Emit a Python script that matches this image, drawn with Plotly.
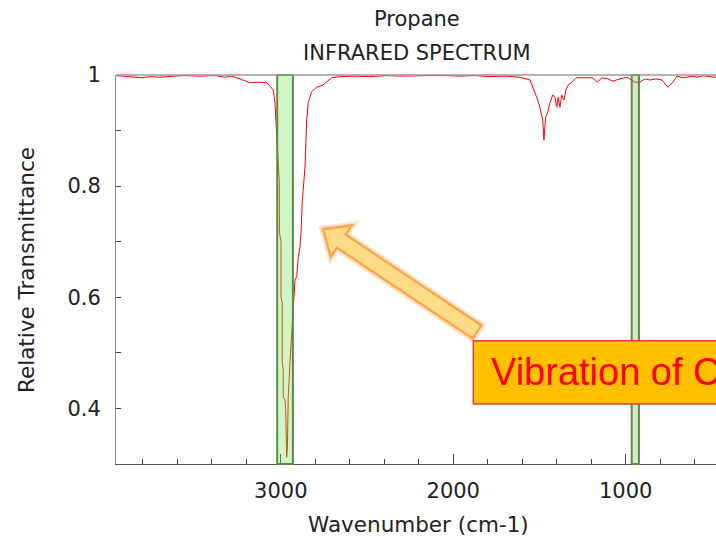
import plotly.graph_objects as go

# ---- data ----
wavenumber = [3956, 3904, 3846, 3806, 3759, 3701, 3614, 3556, 3469, 3382, 3324, 3284,
              3220, 3179, 3133, 3081, 3063, 3044, 3034, 3024, 3017, 3009, 3008, 2999,
              2999, 2992, 2992, 2986, 2986, 2976, 2972, 2966, 2962, 2957, 2947, 2937,
              2928, 2918, 2908, 2899, 2889, 2883, 2876, 2864, 2860, 2850, 2841, 2821,
              2792, 2756, 2734, 2705, 2657, 2570, 2483, 2396, 2309, 2222, 2135, 2048,
              1961, 1874, 1787, 1700, 1613, 1555, 1536, 1516, 1501, 1491, 1481, 1474,
              1464, 1452, 1439, 1423, 1410, 1400, 1391, 1381, 1371, 1358, 1346, 1333,
              1313, 1288, 1236, 1190, 1166, 1137, 1103, 1074, 1033, 992, 946, 917,
              888, 859, 824, 789, 755, 726, 702, 673, 644, 615, 586, 552, 511, 476]
transmittance = [0.999, 0.998, 0.996, 0.995, 0.997, 0.996, 0.998, 0.999, 0.998, 0.999, 0.996, 0.998,
                 0.991, 0.986, 0.987, 0.986, 0.980, 0.973, 0.950, 0.883, 0.847, 0.807, 0.716, 0.700,
                 0.600, 0.590, 0.483, 0.470, 0.420, 0.415, 0.400, 0.312, 0.330, 0.420, 0.483, 0.535,
                 0.577, 0.631, 0.637, 0.672, 0.690, 0.716, 0.770, 0.810, 0.834, 0.919, 0.950, 0.970,
                 0.978, 0.982, 0.987, 0.995, 0.997, 0.998, 0.997, 0.999, 0.998, 0.999, 0.999, 0.999,
                 0.998, 0.999, 0.997, 0.998, 0.996, 0.991, 0.977, 0.960, 0.946, 0.932, 0.919, 0.883,
                 0.924, 0.933, 0.950, 0.964, 0.960, 0.942, 0.960, 0.942, 0.964, 0.955, 0.973, 0.982,
                 0.987, 0.995, 0.995, 0.995, 0.987, 0.995, 0.993, 0.989, 0.993, 0.996, 0.987, 0.987,
                 0.993, 0.991, 0.993, 0.991, 0.978, 0.987, 0.998, 0.995, 0.996, 0.998, 0.996, 0.999, 0.997, 0.996]

band_ranges = [(3021, 2930), (965, 923)]
y_tickvals = [0.4, 0.6, 0.8, 1.0]
y_ticktext = ["0.4", "0.6", "0.8", "1"]
x_tickvals = [3000, 2000, 1000]
x_ticktext = ["3000", "2000", "1000"]

W, H = 716, 539
L, R, T, B = 116, 0, 75, 75
PW, PH = W - L - R, H - T - B


def px(x):
    return (x - L) / PW


def py(y):
    return (H - B - y) / PH


FONT = "DejaVu Sans"
fig = go.Figure()
fig.add_trace(go.Scatter(x=wavenumber, y=transmittance, mode="lines",
                         line=dict(color="#ff0000", width=1), hoverinfo="skip"))

# green highlight bands
band_styles = [("rgba(120,230,90,0.35)", "#5f8a46"), ("rgba(150,200,110,0.40)", "#5f8a46")]
for (a, b), (fc, lc) in zip(band_ranges, band_styles):
    fig.add_shape(type="rect", xref="x", yref="paper", x0=a, x1=b, y0=0, y1=1,
                  fillcolor=fc, line=dict(color=lc, width=2), layer="above")

# top border line
fig.add_shape(type="line", xref="paper", yref="paper", x0=0, x1=1, y0=1, y1=1,
              line=dict(color="#9a9a9a", width=1.5))

# arrow polygon (pixel geometry)
arrow_pts = [(323, 229), (351.9, 225.4), (345.7, 234.6), (481.4, 325.4),
             (472.6, 338.6), (336.9, 247.8), (330.7, 257)]
path = "M " + " L ".join(f"{px(x):.5f},{py(y):.5f}" for x, y in arrow_pts) + " Z"
fig.add_shape(type="path", xref="paper", yref="paper", path=path,
              fillcolor="rgba(0,0,0,0)", line=dict(color="rgba(255,175,100,0.35)", width=7))
fig.add_shape(type="path", xref="paper", yref="paper", path=path,
              fillcolor="#ffdd88", line=dict(color="#ffa64d", width=2.5))

# label box
fig.add_shape(type="rect", xref="paper", yref="paper",
              x0=px(473.3), x1=px(1000), y0=py(404), y1=py(340.7),
              fillcolor="#ffc000", line=dict(color="#d8433a", width=1.5))
fig.add_annotation(text="Vibration of C-H bonds", xref="paper", yref="paper",
                   x=px(489), y=py(372), xanchor="left", yanchor="middle", showarrow=False,
                   font=dict(family="Liberation Sans", size=38, color="#ff0000"))

# titles
fig.add_annotation(text="Propane", xref="paper", yref="paper", x=px(416.5), y=py(19),
                   xanchor="center", yanchor="middle", showarrow=False,
                   font=dict(family=FONT, size=21, color="#222"))
fig.add_annotation(text="INFRARED SPECTRUM", xref="paper", yref="paper", x=px(417), y=py(53),
                   xanchor="center", yanchor="middle", showarrow=False,
                   font=dict(family=FONT, size=21, color="#222"))
fig.add_annotation(text="Wavenumber (cm-1)", xref="paper", yref="paper", x=px(418.5), y=py(524),
                   xanchor="center", yanchor="middle", showarrow=False,
                   font=dict(family=FONT, size=21.5, color="#222"))
fig.add_annotation(text="Relative Transmittance", xref="paper", yref="paper", x=px(26), y=py(270),
                   xanchor="center", yanchor="middle", showarrow=False, textangle=-90,
                   font=dict(family=FONT, size=21.5, color="#222"))

fig.update_layout(
    width=W, height=H, margin=dict(l=L, r=R, t=T, b=B),
    paper_bgcolor="white", plot_bgcolor="white", showlegend=False,
    font=dict(family=FONT, size=21, color="#222"),
    xaxis=dict(range=[3956, 476], showgrid=False, zeroline=False,
               showline=True, linecolor="#555", linewidth=1,
               ticks="inside", ticklen=10, tickcolor="#444", tickwidth=1,
               tickvals=x_tickvals, ticktext=x_ticktext, ticklabelstandoff=8,
               minor=dict(ticks="inside", ticklen=5, dtick=200, tick0=0, tickcolor="#444", showgrid=False)),
    yaxis=dict(range=[0.3, 1.0], showgrid=False, zeroline=False,
               showline=True, linecolor="#888", linewidth=1,
               ticks="inside", ticklen=5, tickcolor="#444", tickwidth=1,
               tickvals=y_tickvals, ticktext=y_ticktext, ticklabelstandoff=10,
               minor=dict(ticks="inside", ticklen=5, dtick=0.1, tick0=0.3, tickcolor="#444", showgrid=False)),
)

fig.write_html("out.html")
